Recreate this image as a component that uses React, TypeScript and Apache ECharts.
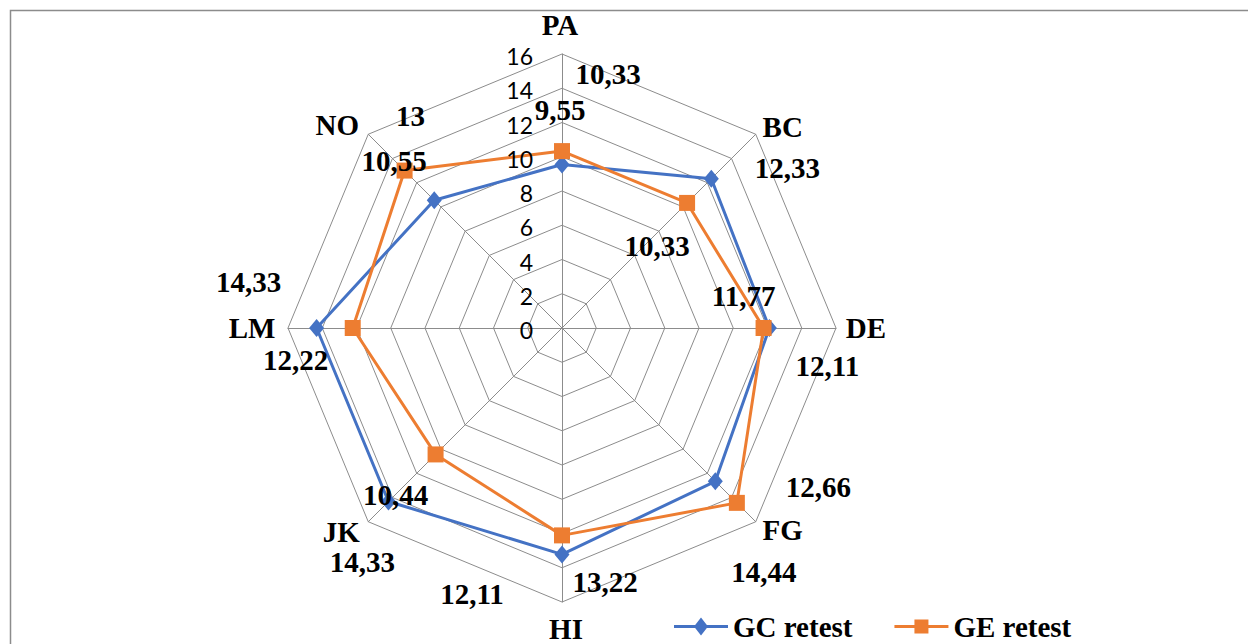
import React, { useEffect, useRef } from 'react';
import * as echarts from 'echarts';

// ---- data (categories listed clockwise from the top) ----
const categories = ['PA', 'BC', 'DE', 'FG', 'HI', 'JK', 'LM', 'NO'];
const gcRetest = [9.55, 12.33, 12.11, 12.66, 13.22, 14.33, 14.33, 10.55];
const geRetest = [10.33, 10.33, 11.77, 14.44, 12.11, 10.44, 12.22, 13];
const tickValues = [0, 2, 4, 6, 8, 10, 12, 14, 16];
const seriesNames = ['GC retest', 'GE retest'];
const axisMax = 16;

// ---- style: label offsets from their point (px) ----
const gcLabelOffsets = [[-2, -54], [76, -11], [58, 38], [103, 6], [43, 28], [-26, 60], [-68, -46], [-40, -39]];
const geLabelOffsets = [[46, -77], [-30, 43], [-20, -32], [27, 69], [-90, 59], [-40, 41], [-57, 32], [6, -55]];
const nameOffsets = [[-2, -29], [27, -7], [30, 0], [27, 8], [4, 27], [-27, 10], [-36, 0], [-31, -9]];

const BLUE = '#4472C4';
const ORANGE = '#ED7D31';
const GRID = '#8c8c8c';
const SERIF = "'Liberation Serif', 'Times New Roman', serif";
const SANS = "Lato, 'Liberation Sans', sans-serif";
const CX = 562;
const CY = 328;
const R = 274;
const LABEL_SIZE = 29;

// ECharts lays indicators out counter-clockwise; map clockwise index k -> indicator j
const n = categories.length;
const ecToCw = Array.from({ length: n }, (_, j) => (n - j) % n);
const cwToEc = (k: number) => (n - k) % n;

const fmt = (v: number) => String(v).replace('.', ',');

export default function App() {
  const ref = useRef<HTMLDivElement>(null);
  useEffect(() => {
    document.body.style.margin = '0';
    const chart = echarts.init(ref.current!, null, { renderer: 'svg' });
    const option: any = {
      animation: false,
      backgroundColor: '#ffffff',
      radar: {
        center: [CX, CY],
        radius: R,
        startAngle: 90,
        shape: 'polygon',
        splitNumber: 8,
        indicator: ecToCw.map((k) => ({ name: categories[k], min: 0, max: axisMax })),
        axisName: { show: false },
        axisLine: { lineStyle: { color: GRID, width: 1 } },
        splitLine: { lineStyle: { color: GRID, width: 1 } },
        splitArea: { show: false },
        axisTick: { show: false },
        axisLabel: { show: false },
      },
      legend: {
        left: 669,
        top: 607,
        itemWidth: 54,
        itemHeight: 18,
        itemGap: 42,
        data: [
          { name: seriesNames[0], icon: 'path://M0,7.5H54V10.5H0Z M27,0L34,9L27,18L20,9Z' },
          { name: seriesNames[1], icon: 'path://M0,7.5H54V10.5H0Z M20,2H34V16H20Z' },
        ],
        textStyle: { fontFamily: SERIF, fontWeight: 'bold', fontSize: LABEL_SIZE, color: '#000' },
      },
      series: [
        {
          type: 'radar',
          name: seriesNames[0],
          symbol: 'diamond',
          symbolSize: [15, 18],
          lineStyle: { color: BLUE, width: 3 },
          itemStyle: { color: BLUE },
          z: 2,
          data: [{ name: seriesNames[0], value: ecToCw.map((k) => gcRetest[k]) }],
        },
        {
          type: 'radar',
          name: seriesNames[1],
          symbol: 'rect',
          symbolSize: 16,
          lineStyle: { color: ORANGE, width: 3 },
          itemStyle: { color: ORANGE },
          z: 3,
          data: [{ name: seriesNames[1], value: ecToCw.map((k) => geRetest[k]) }],
        },
      ],
    };
    chart.setOption(option);

    let cs: any = null;
    try {
      cs = (chart as any).getModel().getComponent('radar', 0).coordinateSystem;
    } catch (e) {
      cs = null;
    }
    const point = (v: number, k: number): number[] => {
      const j = cwToEc(k);
      if (cs && cs.dataToPoint) return cs.dataToPoint(v, j);
      const ang = Math.PI / 2 + (j * 2 * Math.PI) / n;
      const r = (v / axisMax) * R;
      return [CX + r * Math.cos(ang), CY - r * Math.sin(ang)];
    };

    const elements: any[] = [];
    elements.push({
      type: 'rect',
      shape: { x: 10.5, y: 10.5, width: 1300, height: 700 },
      style: { fill: 'none', stroke: GRID, lineWidth: 1.5 },
      z: 0,
      silent: true,
    });
    tickValues.forEach((t) => {
      const p = point(t, 0);
      elements.push({
        type: 'text',
        x: p[0] - 29,
        y: p[1] + 2,
        z: 50,
        style: { text: String(t), align: 'right', verticalAlign: 'middle', fontFamily: SANS, fontSize: 23, fill: '#000' },
      });
    });
    categories.forEach((c, k) => {
      const p = point(axisMax, k);
      elements.push({
        type: 'text',
        x: p[0] + nameOffsets[k][0],
        y: p[1] + nameOffsets[k][1],
        z: 50,
        style: { text: c, align: 'center', verticalAlign: 'middle', fontFamily: SERIF, fontWeight: 'bold', fontSize: LABEL_SIZE, fill: '#000' },
      });
    });
    const addLabels = (vals: number[], offs: number[][]) => {
      vals.forEach((v, k) => {
        const p = point(v, k);
        elements.push({
          type: 'text',
          x: p[0] + offs[k][0],
          y: p[1] + offs[k][1],
          z: 100,
          style: { text: fmt(v), align: 'center', verticalAlign: 'middle', fontFamily: SERIF, fontWeight: 'bold', fontSize: LABEL_SIZE, fill: '#000' },
        });
      });
    };
    addLabels(gcRetest, gcLabelOffsets);
    addLabels(geRetest, geLabelOffsets);
    chart.setOption({ graphic: elements });

    return () => chart.dispose();
  }, []);
  return <div ref={ref} style={{ width: 1248, height: 644 }} />;
}
